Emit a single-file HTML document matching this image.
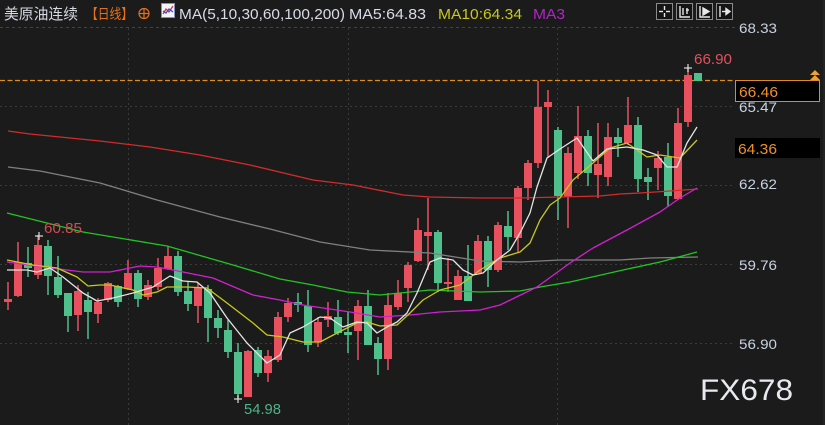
<!DOCTYPE html>
<html><head><meta charset="utf-8"><style>
html,body{margin:0;padding:0;background:#1b1b1b;}
svg{display:block;}
text{font-family:"Liberation Sans","Noto Sans CJK SC",sans-serif;}
</style></head><body>
<svg width="825" height="425" viewBox="0 0 825 425" xmlns="http://www.w3.org/2000/svg">
<rect width="825" height="425" fill="#1b1b1b"/>
<rect x="823" y="0" width="2" height="425" fill="#232323"/>
<!-- grid -->
<g stroke="#3a3a3a" stroke-width="1" stroke-dasharray="2,3" fill="none">
<line x1="0" y1="27.5" x2="735" y2="27.5" stroke="#444" stroke-dasharray="3,3"/>
<line x1="0" y1="106.5" x2="735" y2="106.5"/>
<line x1="0" y1="185.5" x2="735" y2="185.5"/>
<line x1="0" y1="264.5" x2="735" y2="264.5"/>
<line x1="0" y1="343.5" x2="735" y2="343.5"/>
<line x1="128.5" y1="28" x2="128.5" y2="425"/>
<line x1="348.5" y1="28" x2="348.5" y2="425"/>
<line x1="557.5" y1="28" x2="557.5" y2="425"/>
</g>
<!-- orange dashed current price line -->
<line x1="0" y1="80.5" x2="735" y2="80.5" stroke="#e08a20" stroke-width="1.3" stroke-dasharray="5,2.5"/>

<!-- red candles -->
<g fill="#e9505d" stroke="#e9505d">
<g stroke-width="1.5">
<line x1="8" y1="282" x2="8" y2="310"/><line x1="18" y1="242" x2="18" y2="297"/><line x1="38" y1="235" x2="38" y2="279"/><line x1="78" y1="285" x2="78" y2="331"/><line x1="98" y1="298" x2="98" y2="323"/><line x1="108" y1="282" x2="108" y2="302"/><line x1="128" y1="260" x2="128" y2="290"/><line x1="148" y1="280" x2="148" y2="300"/><line x1="158" y1="258" x2="158" y2="290"/><line x1="168" y1="246" x2="168" y2="270"/><line x1="198" y1="283" x2="198" y2="323"/><line x1="248" y1="350" x2="248" y2="397"/><line x1="268" y1="350" x2="268" y2="382"/><line x1="278" y1="312" x2="278" y2="362"/><line x1="288" y1="298" x2="288" y2="322"/><line x1="318" y1="317" x2="318" y2="347"/><line x1="328" y1="302" x2="328" y2="327"/><line x1="358" y1="300" x2="358" y2="360"/><line x1="388" y1="293" x2="388" y2="370"/><line x1="398" y1="280" x2="398" y2="310"/><line x1="408" y1="262" x2="408" y2="302"/><line x1="418" y1="218" x2="418" y2="262"/><line x1="428" y1="198" x2="428" y2="270"/><line x1="448" y1="258" x2="448" y2="292"/><line x1="458" y1="270" x2="458" y2="300"/><line x1="478" y1="235" x2="478" y2="273"/><line x1="498" y1="222" x2="498" y2="272"/><line x1="518" y1="186" x2="518" y2="252"/><line x1="528" y1="160" x2="528" y2="200"/><line x1="538" y1="81" x2="538" y2="168"/><line x1="548" y1="90" x2="548" y2="158"/><line x1="568" y1="147" x2="568" y2="228"/><line x1="578" y1="106" x2="578" y2="179"/><line x1="598" y1="123" x2="598" y2="198"/><line x1="608" y1="123" x2="608" y2="186"/><line x1="628" y1="97" x2="628" y2="145"/><line x1="658" y1="151" x2="658" y2="190"/><line x1="678" y1="108" x2="678" y2="200"/><line x1="688" y1="67" x2="688" y2="127"/>
</g>
<g stroke="none">
<rect x="4" y="299" width="8" height="3"/><rect x="14" y="262" width="8" height="34"/><rect x="34" y="245" width="8" height="30"/><rect x="74" y="291" width="8" height="24"/><rect x="94" y="302" width="8" height="12"/><rect x="104" y="283" width="8" height="17"/><rect x="124" y="273" width="8" height="16"/><rect x="144" y="285" width="8" height="12"/><rect x="154" y="268" width="8" height="19"/><rect x="164" y="256" width="8" height="13"/><rect x="194" y="288" width="8" height="18"/><rect x="244" y="351" width="8" height="46"/><rect x="264" y="356" width="8" height="17"/><rect x="274" y="317" width="8" height="43"/><rect x="284" y="303" width="8" height="14"/><rect x="314" y="322" width="8" height="20"/><rect x="324" y="316" width="8" height="4"/><rect x="354" y="306" width="8" height="25"/><rect x="384" y="305" width="8" height="54"/><rect x="394" y="293" width="8" height="14"/><rect x="404" y="265" width="8" height="23"/><rect x="414" y="230" width="8" height="31"/><rect x="424" y="232" width="8" height="4"/><rect x="444" y="282" width="8" height="2"/><rect x="454" y="276" width="8" height="24"/><rect x="474" y="241" width="8" height="32"/><rect x="494" y="225" width="8" height="45"/><rect x="514" y="188" width="8" height="50"/><rect x="524" y="163" width="8" height="25"/><rect x="534" y="107" width="8" height="56"/><rect x="544" y="102" width="8" height="5"/><rect x="564" y="153" width="8" height="44"/><rect x="574" y="136" width="8" height="37"/><rect x="594" y="164" width="8" height="11"/><rect x="604" y="137" width="8" height="40"/><rect x="624" y="125" width="8" height="18"/><rect x="654" y="158" width="8" height="10"/><rect x="674" y="123" width="8" height="76"/><rect x="684" y="75" width="8" height="47"/>
</g>
</g>
<!-- green candles -->
<g fill="#4fbf8b" stroke="#4fbf8b">
<g stroke-width="1.5">
<line x1="28" y1="247" x2="28" y2="277"/><line x1="48" y1="240" x2="48" y2="295"/><line x1="58" y1="256" x2="58" y2="298"/><line x1="68" y1="293" x2="68" y2="332"/><line x1="88" y1="292" x2="88" y2="339"/><line x1="118" y1="285" x2="118" y2="307"/><line x1="138" y1="270" x2="138" y2="307"/><line x1="178" y1="251" x2="178" y2="296"/><line x1="188" y1="282" x2="188" y2="311"/><line x1="208" y1="285" x2="208" y2="342"/><line x1="218" y1="310" x2="218" y2="338"/><line x1="228" y1="320" x2="228" y2="358"/><line x1="238" y1="343" x2="238" y2="399"/><line x1="258" y1="347" x2="258" y2="377"/><line x1="298" y1="293" x2="298" y2="312"/><line x1="308" y1="290" x2="308" y2="352"/><line x1="338" y1="300" x2="338" y2="335"/><line x1="348" y1="312" x2="348" y2="353"/><line x1="368" y1="290" x2="368" y2="345"/><line x1="378" y1="337" x2="378" y2="375"/><line x1="438" y1="230" x2="438" y2="292"/><line x1="468" y1="245" x2="468" y2="301"/><line x1="488" y1="236" x2="488" y2="287"/><line x1="508" y1="211" x2="508" y2="250"/><line x1="558" y1="127" x2="558" y2="220"/><line x1="588" y1="130" x2="588" y2="186"/><line x1="618" y1="128" x2="618" y2="157"/><line x1="638" y1="117" x2="638" y2="192"/><line x1="648" y1="168" x2="648" y2="200"/><line x1="668" y1="143" x2="668" y2="207"/>
</g>
<g stroke="none">
<rect x="24" y="263" width="8" height="5"/><rect x="44" y="246" width="8" height="30"/><rect x="54" y="277" width="8" height="18"/><rect x="64" y="293" width="8" height="23"/><rect x="84" y="300" width="8" height="12"/><rect x="114" y="286" width="8" height="16"/><rect x="134" y="273" width="8" height="26"/><rect x="174" y="256" width="8" height="36"/><rect x="184" y="291" width="8" height="13"/><rect x="204" y="289" width="8" height="29"/><rect x="214" y="318" width="8" height="10"/><rect x="224" y="330" width="8" height="22"/><rect x="234" y="352" width="8" height="42"/><rect x="254" y="350" width="8" height="23"/><rect x="294" y="302" width="8" height="3"/><rect x="304" y="306" width="8" height="39"/><rect x="334" y="317" width="8" height="16"/><rect x="344" y="332" width="8" height="3"/><rect x="364" y="306" width="8" height="39"/><rect x="374" y="343" width="8" height="16"/><rect x="434" y="232" width="8" height="51"/><rect x="464" y="276" width="8" height="25"/><rect x="484" y="241" width="8" height="29"/><rect x="504" y="226" width="8" height="11"/><rect x="554" y="130" width="8" height="66"/><rect x="584" y="136" width="8" height="37"/><rect x="614" y="137" width="8" height="6"/><rect x="634" y="125" width="8" height="54"/><rect x="644" y="177" width="8" height="5"/><rect x="664" y="157" width="8" height="39"/><rect x="694" y="73" width="8" height="8"/>
</g>
</g>

<!-- moving averages -->
<g fill="none" stroke-width="1.3" stroke-linejoin="round">
<polyline stroke="#d42a2a" points="8,131 30,134 60,137 100,141 150,147 200,155 250,165 313,180 353,185 403,195 430,197 480,198 520,198 560,197 600,196 620,194 640,193 670,191 698,189"/>
<polyline stroke="#808080" points="8,167 40,171 100,183 157,200 220,217 270,229 320,242 370,250 430,253 480,261 520,262 560,260 620,260 650,258 698,257"/>
<polyline stroke="#22c422" points="7,213 83,232 167,246 233,265 280,279 313,285 347,292 380,295 430,290 480,292 520,291 540,287 570,282 623,270 660,262 697,252"/>
<polyline stroke="#d020d0" points="7,262 43,267 83,272 110,272 140,266 157,267 173,270 213,278 253,295 280,300 303,305 350,312 380,317 410,315 440,312 480,310 500,305 537,287 570,263 593,248 627,230 660,212 680,198 697,188"/>
<polyline stroke="#c8c81e" points="7,260 33,265 57,268 77,277 88,286 100,285 110,285 133,290 143,295 157,292 167,287 187,287 207,288 227,303 253,323 267,335 283,337 303,342 320,342 337,333 357,323 367,322 380,326 397,325 410,313 423,300 440,290 460,285 480,270 500,258 520,252 530,243 540,220 550,205 560,198 573,180 593,163 610,148 627,143 647,157 660,155 680,158 697,140"/>
<polyline stroke="#e4e4e4" points="7,270 27,270 37,272 50,268 63,277 83,293 97,301 113,298 133,293 153,287 170,276 183,281 197,282 210,293 227,318 247,343 267,363 280,355 290,333 303,327 320,317 330,318 343,327 357,322 367,323 377,333 387,327 397,322 407,313 417,293 430,262 440,258 453,260 463,270 473,275 483,273 497,260 510,250 520,233 530,213 537,187 547,158 560,149 577,138 593,161 607,149 627,147 643,150 657,155 667,167 677,167 687,143 697,127"/>
</g>

<!-- high/low markers -->
<g stroke="#dddddd" stroke-width="1.2">
<line x1="35" y1="236" x2="43" y2="236"/><line x1="39" y1="232" x2="39" y2="240"/>
<line x1="234" y1="399" x2="242" y2="399"/><line x1="238" y1="395" x2="238" y2="403"/>
<line x1="684" y1="68" x2="692" y2="68"/><line x1="688" y1="64" x2="688" y2="72"/>
</g>
<text x="44" y="233" font-size="15" fill="#d84858" textLength="38" lengthAdjust="spacingAndGlyphs">60.85</text>
<text x="244" y="414" font-size="15" fill="#4fb487" textLength="37" lengthAdjust="spacingAndGlyphs">54.98</text>
<text x="694" y="64" font-size="15" fill="#e4505c" textLength="38" lengthAdjust="spacingAndGlyphs">66.90</text>

<!-- price axis -->
<g font-size="14" fill="#c8d2e2">
<text x="739" y="33" textLength="38" lengthAdjust="spacingAndGlyphs">68.33</text>
<text x="739" y="112" textLength="38" lengthAdjust="spacingAndGlyphs">65.47</text>
<text x="739" y="189" textLength="38" lengthAdjust="spacingAndGlyphs">62.62</text>
<text x="739" y="270" textLength="38" lengthAdjust="spacingAndGlyphs">59.76</text>
<text x="739" y="349" textLength="38" lengthAdjust="spacingAndGlyphs">56.90</text>
</g>
<rect x="735.5" y="80.5" width="84" height="21" fill="#000" stroke="#e08a20" stroke-width="1"/>
<text x="739" y="97" font-size="15" fill="#f0902a" textLength="39" lengthAdjust="spacingAndGlyphs">66.46</text>
<rect x="735" y="138" width="85" height="20" fill="#000"/>
<text x="738" y="154" font-size="15" fill="#f0902a" textLength="39" lengthAdjust="spacingAndGlyphs">64.36</text>
<g fill="#f0a030">
<polygon points="810,75 815,70 820,75"/><polygon points="810,80 815,75 820,80"/>
</g>

<!-- header -->
<text x="4" y="19" font-size="15" fill="#d4d8e0" textLength="74" lengthAdjust="spacingAndGlyphs">美原油连续</text>
<text x="86" y="19" font-size="14" fill="#e8701a" textLength="47" lengthAdjust="spacingAndGlyphs">【日线】</text>
<g stroke="#e8701a" stroke-width="1.2" fill="none">
<circle cx="144" cy="13.5" r="5"/><line x1="139" y1="13.5" x2="149" y2="13.5"/><line x1="144" y1="8.5" x2="144" y2="18.5"/>
</g>
<rect x="161.5" y="3.5" width="13" height="14" fill="#f4f4f8" stroke="#8090c0"/>
<polyline points="163,14 166,9 169,12 173,6" fill="none" stroke="#e03030" stroke-width="1.3"/>
<polyline points="163,11 166,13 169,9 173,12" fill="none" stroke="#3050d0" stroke-width="1.3"/>
<text x="179" y="19" font-size="15" fill="#d8dce8" textLength="166" lengthAdjust="spacingAndGlyphs">MA(5,10,30,60,100,200)</text>
<text x="349" y="19" font-size="15" fill="#d8dce8" textLength="77" lengthAdjust="spacingAndGlyphs">MA5:64.83</text>
<text x="438" y="19" font-size="15" fill="#c8c81e" textLength="84" lengthAdjust="spacingAndGlyphs">MA10:64.34</text>
<text x="533" y="19" font-size="15" fill="#b423c8" textLength="32" lengthAdjust="spacingAndGlyphs">MA3</text>

<!-- top right buttons -->
<g fill="#141414" stroke="#8a8a8a" stroke-width="1">
<rect x="656.5" y="3.5" width="16" height="16"/>
<rect x="676.5" y="3.5" width="16" height="16"/>
<rect x="696.5" y="3.5" width="16" height="16"/>
<rect x="716.5" y="3.5" width="16" height="16"/>
</g>
<g stroke="#e8e8e8" stroke-width="1.4" fill="none">
<line x1="664.5" y1="6" x2="664.5" y2="10"/><line x1="664.5" y1="13" x2="664.5" y2="17"/><line x1="659" y1="11.5" x2="663" y2="11.5"/><line x1="666" y1="11.5" x2="670" y2="11.5"/>
<polyline points="680,6 680,17 690,17"/><line x1="683" y1="8" x2="683" y2="15"/><line x1="686" y1="10" x2="689" y2="10"/><line x1="687" y1="8" x2="687" y2="14"/>
<polyline points="700,6 700,17 710,17"/><polygon points="703,8 709,11.5 703,15" fill="#e8e8e8"/>
<line x1="720" y1="6" x2="720" y2="17"/><line x1="722" y1="11.5" x2="729" y2="11.5"/><polygon points="726,8.5 730,11.5 726,14.5" fill="#e8e8e8"/>
</g>

<!-- watermark -->
<text x="700" y="400" font-size="30" fill="#e8eaf0" textLength="93" lengthAdjust="spacingAndGlyphs">FX678</text>
</svg>
</body></html>
